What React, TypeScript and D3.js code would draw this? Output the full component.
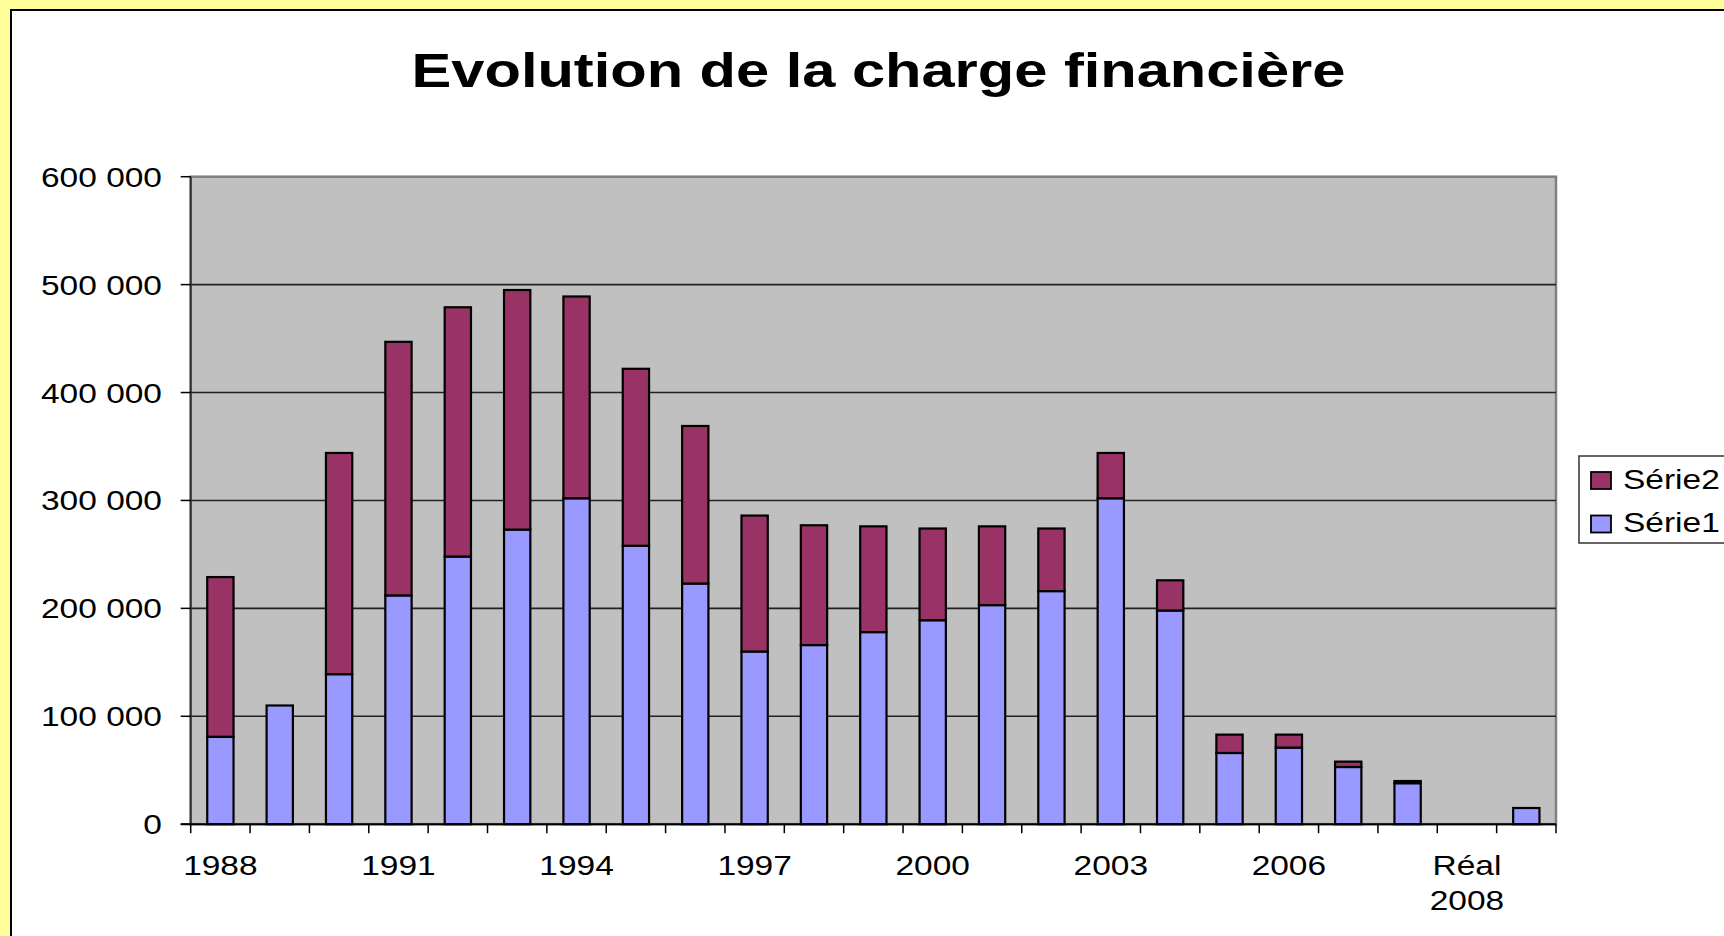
import * as d3 from "d3";

const categories = [
  "1988", "1989", "1990", "1991", "1992", "1993", "1994", "1995", "1996", "1997", "1998", "1999",
  "2000", "2001", "2002", "2003", "2004", "2005", "2006", "2007", "2008", "Réal 2008", "2009",
];
// Série1 (lower, lilac) and Série2 (upper, maroon)
const serie1 = [
  81000, 110000, 139000, 212000, 248000, 273000, 302000, 258000, 223000, 160000, 166000, 178000,
  189000, 203000, 216000, 302000, 198000, 66000, 71000, 53000, 38000, 0, 15000,
];
const serie2 = [
  148000, 0, 205000, 235000, 231000, 222000, 187000, 164000, 146000, 126000, 111000, 98000,
  85000, 73000, 58000, 42000, 28000, 17000, 12000, 5000, 2000, 0, 0,
];
const yTicks = [0, 100000, 200000, 300000, 400000, 500000, 600000];
const shownLabels = ["1988", "1991", "1994", "1997", "2000", "2003", "2006", "Réal 2008"];

const seriesKeys = ["serie1", "serie2"];
const seriesNames: Record<string, string> = { serie1: "Série1", serie2: "Série2" };
const seriesColors: Record<string, string> = { serie1: "#9999FF", serie2: "#993366" };

const W = 1724;
const H = 936;
const plot = { left: 190.7, right: 1556, top: 176.7, bottom: 824.2 };
const font = "'Liberation Sans', Arial, sans-serif";
const stretch = 1.24;

const fmt = (v: number) => d3.format(",")(v).replace(/,/g, " ");

export default function App() {
  const rows = categories.map((c, i) => ({ cat: c, serie1: serie1[i], serie2: serie2[i] }));
  const stacked = d3.stack<any>().keys(seriesKeys)(rows);

  const x = d3.scaleBand().domain(categories).range([plot.left, plot.right]).paddingInner(0.557).paddingOuter(0.2785);
  const y = d3.scaleLinear().domain([0, 600000]).range([plot.bottom, plot.top]);
  const step = x.step();
  const bounds = d3.range(categories.length + 1).map((i) => plot.left + i * step);

  return (
    <svg width={W} height={H} style={{ position: "absolute", left: 0, top: 0 }} fontFamily={font}>
      <rect x={0} y={0} width={W} height={H} fill="#FFFF99" />
      <rect x={11} y={10} width={W + 20} height={H + 20} fill="#ffffff" stroke="#000" strokeWidth={2} />

      <text transform={`translate(878.5,87) scale(1.255,1)`} textAnchor="middle" fontSize={47.5} fontWeight="bold">
        Evolution de la charge financière
      </text>

      <rect x={plot.left} y={plot.top} width={plot.right - plot.left} height={plot.bottom - plot.top} fill="#C0C0C0" stroke="#808080" strokeWidth={2.5} />

      {yTicks.slice(1, -1).map((t) => (
        <line key={`g${t}`} x1={plot.left} x2={plot.right} y1={y(t)} y2={y(t)} stroke="#222" strokeWidth={1.6} />
      ))}

      {stacked.map((layer) =>
        layer.map((d, i) =>
          d[1] - d[0] > 0 ? (
            <rect
              key={`${layer.key}-${i}`}
              x={x(categories[i])}
              y={y(d[1])}
              width={x.bandwidth()}
              height={y(d[0]) - y(d[1])}
              fill={seriesColors[layer.key]}
              stroke="#000"
              strokeWidth={2.2}
            />
          ) : null
        )
      )}

      {/* axes */}
      <line x1={plot.left} x2={plot.left} y1={plot.top} y2={plot.bottom} stroke="#333" strokeWidth={2} />
      <line x1={plot.left - 10} x2={plot.right} y1={plot.bottom} y2={plot.bottom} stroke="#000" strokeWidth={2} />
      {yTicks.map((t) => (
        <g key={`y${t}`}>
          <line x1={plot.left - 10} x2={plot.left} y1={y(t)} y2={y(t)} stroke="#000" strokeWidth={1.5} />
          <text transform={`translate(162,${y(t) + 10}) scale(${stretch},1)`} textAnchor="end" fontSize={27}>
            {fmt(t)}
          </text>
        </g>
      ))}
      {bounds.map((bx, i) => (
        <line key={`xt${i}`} x1={bx} x2={bx} y1={plot.bottom} y2={plot.bottom + 9} stroke="#000" strokeWidth={1.5} />
      ))}
      {categories.map((c) =>
        shownLabels.includes(c) ? (
          <text key={`xl${c}`} transform={`translate(${(x(c) ?? 0) + x.bandwidth() / 2},875) scale(${stretch},1)`} textAnchor="middle" fontSize={27}>
            {c.split(" ").map((part, k) => (
              <tspan key={k} x={0} dy={k === 0 ? 0 : 35}>
                {part}
              </tspan>
            ))}
          </text>
        ) : null
      )}

      {/* legend */}
      <rect x={1579} y={456} width={200} height={87} fill="#fff" stroke="#333" strokeWidth={1.5} />
      {["serie2", "serie1"].map((k, i) => (
        <g key={k}>
          <rect x={1591} y={472 + i * 43.5} width={20} height={17} fill={seriesColors[k]} stroke="#000" strokeWidth={1.8} />
          <text transform={`translate(1623,${489 + i * 43}) scale(${stretch},1)`} fontSize={27}>
            {seriesNames[k]}
          </text>
        </g>
      ))}
    </svg>
  );
}
